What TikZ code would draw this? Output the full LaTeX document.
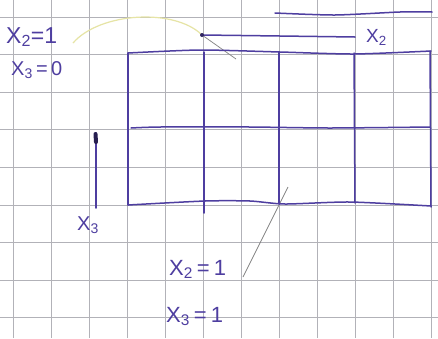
\documentclass[tikz,border=0pt]{standalone}
\usepackage{fontspec}
\setmainfont{Liberation Sans}
\begin{document}
\begin{tikzpicture}[x=1pt,y=-1pt]
\definecolor{ink}{RGB}{78,62,160}
\definecolor{gridc}{RGB}{178,178,184}
\definecolor{hl}{RGB}{230,228,165}
\definecolor{pencil}{RGB}{130,130,130}
\tikzset{
  inkline/.style={draw=ink,line width=1.5pt,line cap=round,line join=round},
  gridline/.style={draw=gridc,line width=0.7pt},
  lab/.style={text=ink,inner sep=0pt,anchor=base west},
}
\useasboundingbox (0,0) rectangle (438,338);
\fill[white] (0,0) rectangle (438,338);
% squared paper
\foreach \i in {0,...,11} \draw[gridline] ({13+38*\i},0) -- ({13+38*\i},338);
\foreach \j in {0,...,8} \draw[gridline] (0,{17+37.6*\j}) -- (438,{17+37.6*\j});
% faint highlighter curve and pencil strokes
\draw[hl,line width=1.2pt] (73,43) .. controls (100,12) and (175,8) .. (202,35);
\draw[pencil,line width=0.7pt] (202,35) -- (236,59);
\draw[pencil,line width=0.7pt] (243,277) -- (288,187);
% map frame
\draw[inkline] plot[smooth,tension=0.4] coordinates {(128,53) (200,50) (280,52) (354,54) (431,51)};
\draw[inkline] plot[smooth,tension=0.4] coordinates {(131,128) (160,127) (250,127) (330,128) (430,127)};
\draw[inkline] plot[smooth,tension=0.4] coordinates {(128,205) (205,201) (250,201) (285,204) (350,202) (431,206)};
\draw[inkline] (128,53) -- (128,205);
\draw[inkline] (204,52) -- (204,213);
\draw[inkline] (279,52) -- (279,204);
\draw[inkline] (354,53) -- (355,203);
\draw[inkline] (430,51) -- (431,207);
% brackets above
\draw[inkline] plot[smooth,tension=0.4] coordinates {(275,13) (335,15) (400,12) (432,12)};
\draw[inkline] plot[smooth,tension=0.4] coordinates {(202,35) (280,36) (355,37)};
\fill[ink!60!black] (202,35) circle (2pt);
% X3 arrow
\draw[inkline] (96,133) -- (96,208);
\draw[ink!50!black,line width=4pt,line cap=round] (95.5,134) -- (96,142);
% labels
\node[lab,font=\fontsize{23}{23}\selectfont] (l1) at (6,43) {X\textsubscript{2}=1};
\node[lab,font=\fontsize{20}{20}\selectfont] (l2) at (11,75) {X\textsubscript{3}\,=\,0};
\node[lab,font=\fontsize{19}{19}\selectfont] (l3) at (366,42) {X\textsubscript{2}};
\node[lab,font=\fontsize{20}{20}\selectfont] (l4) at (77,230) {X\textsubscript{3}};
\node[lab,font=\fontsize{22}{22}\selectfont] (l5) at (169,275) {X\textsubscript{2}\kern4pt=\kern4pt1};
\node[lab,font=\fontsize{22}{22}\selectfont] (l6) at (166,322) {X\textsubscript{3}\kern4pt=\kern4pt1};
\end{tikzpicture}
\end{document}
